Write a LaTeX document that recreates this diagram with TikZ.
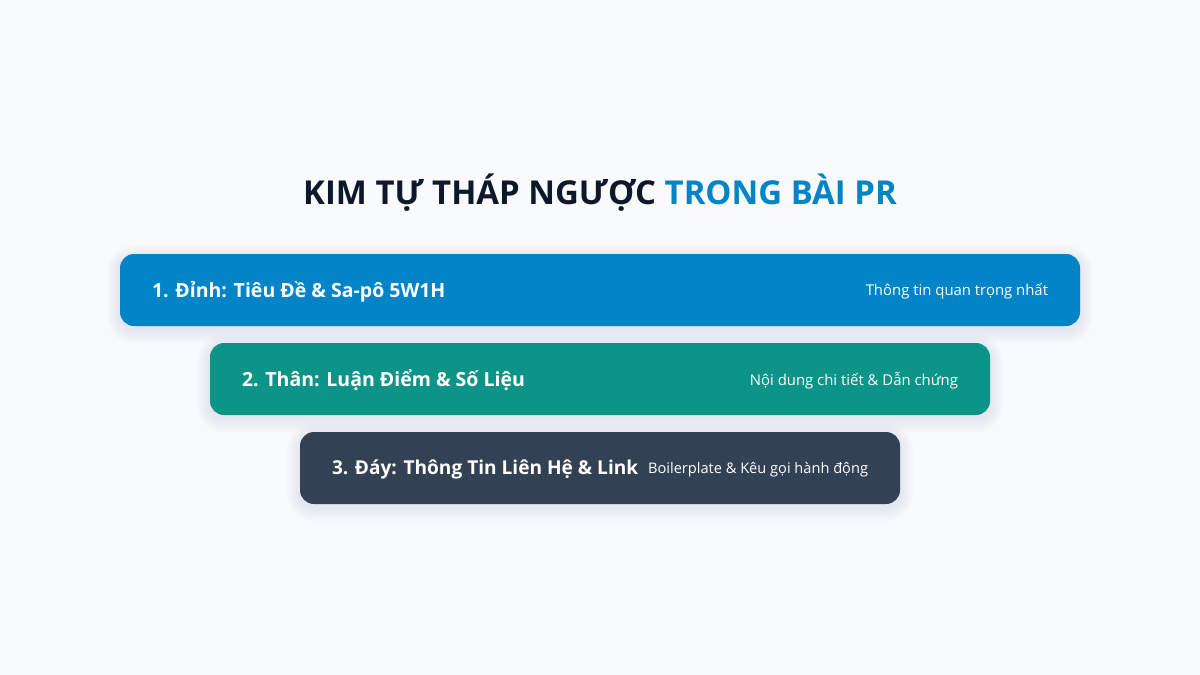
\documentclass[tikz,border=0pt]{standalone}
\usepackage{fontspec}
\setmainfont{Open Sans}
\usetikzlibrary{backgrounds}
\definecolor{bgc}{HTML}{F8FAFC}
\definecolor{navy}{HTML}{0F172A}
\definecolor{skyb}{HTML}{0284C7}
\definecolor{tealb}{HTML}{0D9488}
\definecolor{slateb}{HTML}{334155}
\tikzset{
  tier/.style={rounded corners=14pt, minimum height=72pt, inner sep=0pt, draw=none},
  lefttxt/.style={anchor=west, text=white, font=\fontsize{19.5}{23}\selectfont\bfseries, inner sep=0pt},
  righttxt/.style={anchor=east, text=white, font=\fontsize{14.9}{18}\selectfont, inner sep=0pt},
  shadowlayer/.style={fill=slateb, fill opacity=0.013},
}
\newcommand{\mysoftshadow}[1]{%
  \foreach \k in {1,3,5,7,9,11,13}{%
    \fill[shadowlayer, rounded corners=14pt+\k pt]
      ([xshift=-\k pt, yshift=-4pt-\k pt]#1.south west) rectangle ([xshift=\k pt, yshift=-4pt+\k pt]#1.north east);
  }}
\begin{document}
\begin{tikzpicture}[x=1pt,y=-1pt]
\useasboundingbox (0,0) rectangle (1200,675);
\node[font=\fontsize{32.9}{38}\selectfont\bfseries, text=navy, inner sep=0pt] (title) at (600,193)
  {KIM TỰ THÁP NGƯỢC \textcolor{skyb}{TRONG BÀI PR}};
\node[tier, fill=skyb, minimum width=960pt] (t1) at (600,290) {};
\node[tier, fill=tealb, minimum width=780pt] (t2) at (600,379) {};
\node[tier, fill=slateb, minimum width=600pt] (t3) at (600,468) {};
\node[lefttxt] (l1) at ([xshift=32pt, yshift=-1.5pt]t1.west) {1. Đỉnh: Tiêu Đề \& Sa-pô 5W1H};
\node[righttxt] (r1) at ([xshift=-32pt, yshift=-1.5pt]t1.east) {Thông tin quan trọng nhất};
\node[lefttxt] (l2) at ([xshift=32pt, yshift=-1.5pt]t2.west) {2. Thân: Luận Điểm \& Số Liệu};
\node[righttxt] (r2) at ([xshift=-32pt, yshift=-1.5pt]t2.east) {Nội dung chi tiết \& Dẫn chứng};
\node[lefttxt, font=\fontsize{19.1}{23}\selectfont\bfseries] (l3) at ([xshift=32pt, yshift=-1.5pt]t3.west) {3. Đáy: Thông Tin Liên Hệ \& Link};
\node[righttxt, font=\fontsize{14.6}{18}\selectfont] (r3) at ([xshift=-32pt, yshift=-1.5pt]t3.east) {Boilerplate \& Kêu gọi hành động};
\begin{scope}[on background layer]
\fill[bgc] (0,0) rectangle (1200,675);
\mysoftshadow{t1}
\mysoftshadow{t2}
\mysoftshadow{t3}
\end{scope}
\end{tikzpicture}
\end{document}
